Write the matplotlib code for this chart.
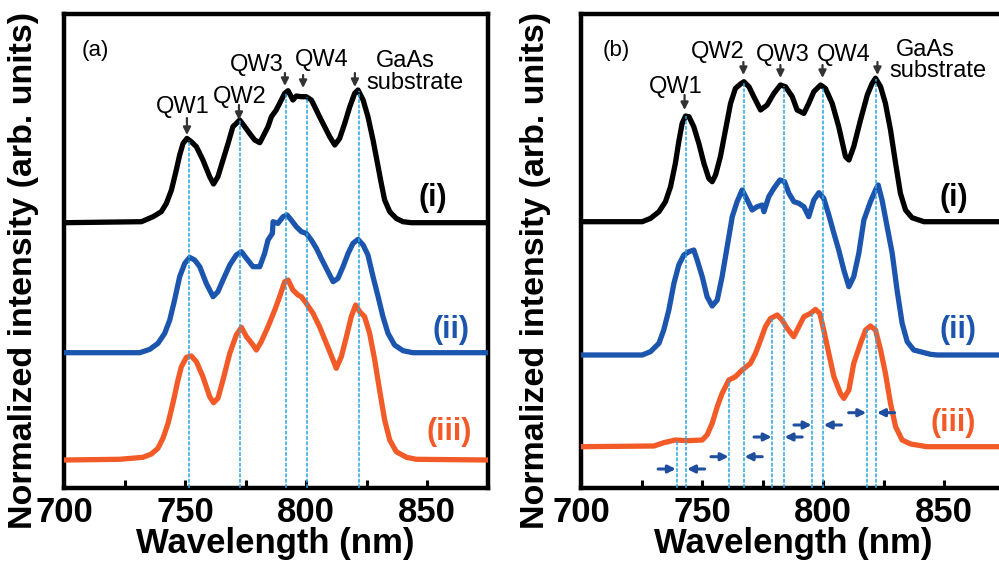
import numpy as np
import matplotlib
matplotlib.use("Agg")
import matplotlib.pyplot as plt
from matplotlib.ticker import MultipleLocator

plt.rcParams['font.family'] = ['Liberation Sans', 'DejaVu Sans']

# ---- panel (a) spectra: wavelength (nm) and signal above each baseline
wl_a1 = [700, 732.0, 736.8, 740.2, 742.3, 744.4, 746.4, 747.8, 749.2, 750.8, 752.6, 754.7, 757.4, 760.2,
         761.8, 763.6, 765.7, 767.8, 769.8, 771.2, 772.6, 774.7, 776.7, 778.8, 780.9, 782.2, 784.3, 785.7,
         787.7, 789.8, 791.2, 792.6, 794.6, 796.0, 798.1, 800.1, 802.2, 803.6, 805.6, 807.7, 809.8, 811.9,
         813.9, 816.0, 818.1, 820.1, 821.5, 823.6, 825.6, 827.7, 829.8, 831.1, 832.5, 834.6, 837.3, 840.1,
         843.5, 875]
in_a1 = [0, 1.0, 6.0, 11.0, 19.3, 32.7, 52.7, 67.7, 79.3, 84.3, 81.0, 76.0, 62.7, 46.0,
         38.7, 46.0, 62.7, 79.3, 96.0, 99.3, 102.7, 96.0, 89.3, 82.7, 80.0, 86.0, 96.0, 106.0,
         112.7, 122.7, 129.3, 132.0, 122.7, 126.7, 126.0, 126.0, 122.7, 116.0, 106.0, 96.0, 86.0, 77.7,
         84.3, 99.3, 116.0, 129.3, 132.7, 122.7, 106.0, 82.7, 56.0, 39.3, 22.7, 11.0, 4.3, 1.0,
         0, 0]

wl_a2 = [700, 731.3, 735.4, 738.8, 741.6, 743.7, 745.7, 747.8, 749.9, 751.9, 754.0, 756.1, 758.8, 761.6,
         763.6, 765.7, 768.5, 771.2, 773.3, 775.4, 778.1, 780.9, 782.9, 784.3, 786.1, 786.4, 788.4, 790.5,
         792.2, 793.9, 796.0, 798.1, 800.1, 802.2, 804.3, 806.3, 808.4, 811.2, 813.2, 815.3, 817.4, 819.4,
         821.5, 823.6, 825.6, 827.7, 829.8, 831.8, 833.9, 836.6, 840.1, 844.2, 875]
in_a2 = [0, 0, 3.3, 9.3, 19.3, 32.7, 52.7, 76.0, 89.3, 95.3, 92.7, 86.0, 69.3, 56.0,
         61.0, 72.7, 87.7, 97.7, 101.0, 94.3, 86.0, 86.0, 99.3, 112.7, 119.3, 131.0, 129.3, 136.0,
         137.7, 132.7, 126.0, 121.0, 119.3, 112.7, 104.3, 94.3, 84.3, 71.0, 74.3, 86.0, 99.3, 109.3,
         113.3, 107.7, 97.7, 76.0, 56.0, 36.0, 19.3, 7.7, 2.0, 0, 0]

wl_a3 = [700, 723.0, 732.6, 736.1, 738.8, 740.9, 743.0, 745.0, 747.1, 748.5, 750.6, 752.6, 754.7, 757.4,
         760.2, 761.8, 763.6, 765.7, 768.5, 771.2, 773.3, 775.4, 778.1, 779.5, 781.5, 784.3, 787.1, 789.1,
         791.2, 792.6, 794.6, 796.7, 798.1, 800.1, 802.9, 805.6, 808.4, 811.2, 812.5, 814.6, 816.7, 818.7,
         820.5, 822.2, 824.2, 826.3, 828.4, 830.4, 832.5, 834.6, 837.3, 841.5, 845.6, 875]
in_a3 = [0, 0.7, 2.7, 6.0, 11.7, 21.7, 36.7, 56.7, 80.0, 93.3, 102.7, 104.0, 98.3, 83.3,
         63.3, 57.3, 61.7, 80.0, 106.7, 125.0, 132.7, 123.3, 115.0, 110.0, 118.3, 133.3, 150.0, 163.3,
         178.3, 180.0, 170.0, 165.0, 163.3, 156.7, 146.7, 133.3, 116.7, 100.0, 91.7, 103.3, 123.3, 143.3,
         155.0, 148.3, 143.3, 126.7, 100.0, 70.0, 40.0, 20.0, 8.3, 2.7, 0.7, 0]

# ---- panel (b) spectra
wl_b1 = [700, 725.3, 728.7, 732.2, 734.9, 737.0, 739.0, 740.4, 741.8, 743.2, 744.6, 746.6, 748.7, 750.8,
         752.8, 754.2, 755.6, 757.6, 759.7, 761.8, 763.8, 765.9, 767.3, 769.4, 771.4, 774.2, 776.9, 779.7,
         782.4, 784.5, 787.3, 789.3, 792.1, 794.1, 796.2, 799.0, 801.0, 803.8, 806.5, 809.3, 810.7, 812.7,
         815.5, 818.3, 820.3, 821.7, 823.8, 825.8, 827.9, 830.0, 832.0, 834.1, 836.8, 841.7, 875]
in_b1 = [0, 0, 3.3, 10.0, 20.0, 35.0, 58.3, 80.0, 98.3, 105.7, 105.0, 95.0, 78.3, 58.3,
         43.3, 40.0, 46.7, 65.0, 91.7, 118.3, 133.3, 137.7, 140.0, 135.0, 125.0, 111.7, 116.7, 128.3,
         136.7, 135.0, 125.0, 111.7, 108.3, 118.3, 130.0, 136.7, 133.3, 118.3, 95.0, 65.0, 61.7, 75.0,
         101.7, 126.7, 138.3, 143.5, 135.0, 118.3, 91.7, 58.3, 28.3, 11.7, 4.0, 0, 0]

wl_b2 = [700, 725.3, 728.7, 732.2, 734.2, 736.3, 738.4, 740.4, 742.5, 744.6, 746.6, 748.0, 750.1, 752.1,
         754.2, 756.3, 758.3, 760.4, 762.5, 764.5, 766.6, 768.7, 770.7, 772.8, 774.9, 775.6, 777.6, 779.7,
         782.2, 784.1, 785.9, 788.0, 790.0, 792.1, 794.1, 796.2, 798.3, 800.3, 802.4, 804.5, 806.5, 808.6,
         810.7, 812.7, 814.8, 816.9, 819.6, 821.7, 822.8, 824.4, 826.5, 828.6, 830.6, 832.7, 834.8, 837.5,
         844.4, 847.2, 875]
in_b2 = [0, 0, 3.3, 11.7, 25.0, 45.0, 71.7, 90.0, 100.0, 103.3, 105.0, 95.0, 78.3, 58.3,
         49.0, 55.0, 78.3, 108.3, 138.3, 153.3, 165.0, 155.0, 145.0, 148.3, 150.0, 143.3, 158.3, 166.7,
         175.0, 173.3, 161.7, 153.3, 151.7, 148.3, 138.3, 155.0, 162.3, 156.7, 140.0, 121.7, 105.0, 85.0,
         68.3, 78.3, 101.7, 135.0, 153.3, 165.0, 170.0, 155.0, 128.3, 101.7, 65.0, 31.7, 13.3, 5.0,
         0.7, 0, 0]

wl_b3 = [700, 730.1, 734.2, 739.0, 743.9, 750.1, 752.1, 754.2, 756.3, 758.3, 761.1, 763.8, 766.6, 770.0,
         772.1, 774.2, 776.2, 778.3, 781.1, 783.1, 785.2, 787.9, 790.0, 792.1, 794.8, 796.9, 798.7, 800.3,
         802.4, 804.5, 807.2, 808.6, 810.7, 812.7, 815.5, 817.6, 819.6, 821.7, 823.8, 825.8, 827.9, 830.0,
         832.7, 836.2, 843.0, 875]
in_b3 = [0, 0.7, 4.0, 6.7, 6.0, 6.7, 11.7, 23.3, 40.0, 53.3, 66.7, 70.0, 76.7, 83.3,
         93.3, 106.7, 120.0, 128.3, 131.7, 126.7, 118.3, 110.0, 120.0, 130.0, 133.3, 137.3, 133.3, 116.7,
         93.3, 70.0, 53.3, 48.3, 56.7, 83.3, 103.3, 116.7, 120.7, 116.7, 96.7, 73.3, 43.3, 20.0,
         6.7, 2.7, 0, 0]

# vertical offsets of the stacked spectra (i), (ii), (iii)
offset_a = [264.8, 134.8, 27.5]
offset_b = [265.8, 132.5, 40.8]

# peak positions (nm)
qw_a = [751.7, 772.6, 791.6, 800.3, 821.8]
qw_b = [743.5, 767.3, 783.8, 800.0, 822.0]
qw_b3 = [739.5, 761.3, 779.1, 795.6, 818.2]
shift_y_b = [18.5, 30.8, 50.5, 62.5, 74.8]

labels = ['(i)', '(ii)', '(iii)']
colors = ['black', '#1b55ad', '#f25a28']
dash_col = '#2ba6e0'
arrow_col = '#1f4e9f'

W, H = 999, 561
fig = plt.figure(figsize=(W / 100, H / 100), dpi=100)


def px_axes(l, r, t, b):
    return [l / W, 1 - b / H, (r - l) / W, (b - t) / H]


ax_a = fig.add_axes(px_axes(64, 487.5, 13.5, 487.5))
ax_b = fig.add_axes(px_axes(581, 1004.5, 13.5, 487.5))

for ax in (ax_a, ax_b):
    ax.set_xlim(700, 875)
    ax.set_ylim(0, 474)
    ax.xaxis.set_major_locator(MultipleLocator(50))
    ax.xaxis.set_minor_locator(MultipleLocator(25))
    ax.set_yticks([])
    ax.tick_params(axis='x', which='both', direction='in', length=6, width=2.2,
                   top=False, labelsize=25, pad=6)
    for lbl in ax.get_xticklabels():
        lbl.set_fontweight('bold')
    for sp in ax.spines.values():
        sp.set_linewidth(3.2)
    ax.set_xlabel('Wavelength (nm)', fontsize=25, fontweight='bold')
    ax.xaxis.set_label_coords(0.5, -0.083)
    ax.set_ylabel('Normalized intensity (arb. units)', fontsize=24.5, fontweight='bold')

ax_a.yaxis.set_label_coords(-0.058, 0.458)
ax_b.yaxis.set_label_coords(-0.07, 0.458)

# spectra
curves_a = [(wl_a1, in_a1), (wl_a2, in_a2), (wl_a3, in_a3)]
curves_b = [(wl_b1, in_b1), (wl_b2, in_b2), (wl_b3, in_b3)]
for ax, curves, offs in ((ax_a, curves_a, offset_a), (ax_b, curves_b, offset_b)):
    for (wl, it), off, c in zip(curves, offs, colors):
        ax.plot(wl, np.array(it) + off, color=c, lw=3.8, solid_joinstyle='round', zorder=3)

# dashed guide lines
top_a = np.interp(qw_a, wl_a1, in_a1) + offset_a[0]
for x, yt in zip(qw_a, top_a):
    ax_a.plot([x, x], [0, yt], color=dash_col, lw=1.1, ls=(0, (2.5, 1)), zorder=4)
top_b = np.interp(qw_b, wl_b1, in_b1) + offset_b[0]
for x, yt in zip(qw_b, top_b):
    ax_b.plot([x, x], [0, yt], color=dash_col, lw=1.1, ls=(0, (2.5, 1)), zorder=4)
top_b3 = np.interp(qw_b3, wl_b3, in_b3) + offset_b[2]
for x, yt in zip(qw_b3, top_b3):
    ax_b.plot([x, x], [0, yt], color=dash_col, lw=1.1, ls=(0, (2.5, 1)), zorder=4)

# blue shift arrows in (b)
for x_lo, x_hi, y in zip(qw_b3, qw_b, shift_y_b):
    ax_b.annotate('', xy=(x_lo - 0.3, y), xytext=(x_lo - 7.6, y),
                  arrowprops=dict(arrowstyle='-|>', color=arrow_col, lw=2.2,
                                  mutation_scale=11, shrinkA=0, shrinkB=0), zorder=5)
    ax_b.annotate('', xy=(x_hi + 0.3, y), xytext=(x_hi + 7.6, y),
                  arrowprops=dict(arrowstyle='-|>', color=arrow_col, lw=2.2,
                                  mutation_scale=11, shrinkA=0, shrinkB=0), zorder=5)

# curve labels
lab_a = [(852.5, 289.5), (860, 157.5), (859, 55.5)]
lab_b = [(853.9, 289.5), (855.6, 157.5), (853.9, 64.5)]
for ax, pos in ((ax_a, lab_a), (ax_b, lab_b)):
    for (x, y), t, c in zip(pos, labels, colors):
        ax.text(x, y, t, color=c, fontsize=22, fontweight='bold', ha='center', va='center')

# peak annotations
def peak_arrow(ax, x, y_tail, y_head):
    ax.annotate('', xy=(x, y_head), xytext=(x, y_tail),
                arrowprops=dict(arrowstyle='-|>', color='#333333', lw=1.6,
                                mutation_scale=11, shrinkA=0, shrinkB=0))

ax_a.text(707.4, 437.5, '(a)', fontsize=16, ha='left', va='center')
ann_a = [('QW1', 749.2, 380.5, 750.8, 369.5, 352.5),
         ('QW2', 772.7, 390.5, 772.3, 382.5, 367.5),
         ('QW3', 779.7, 422.5, 791.3, 414.5, 401.5),
         ('QW4', 806.6, 427.5, 798.8, 412.5, 399.5)]
for t, tx, ty, ax_x, yt, yh in ann_a:
    ax_a.text(tx, ty, t, fontsize=17, ha='center', va='center')
    peak_arrow(ax_a, ax_x, yt, yh)
ax_a.text(840.9, 427, 'GaAs', fontsize=17, ha='center', va='center')
ax_a.text(845.0, 404.5, 'substrate', fontsize=17, ha='center', va='center')
peak_arrow(ax_a, 820.2, 414.5, 400.5)

ax_b.text(708.9, 437.5, '(b)', fontsize=16, ha='left', va='center')
ann_b = [('QW1', 739.0, 400.5, 742.8, 392.5, 377.5),
         ('QW2', 756.4, 435.5, 767.1, 425.5, 412.5),
         ('QW3', 783.3, 432.5, 782.4, 422.5, 409.5),
         ('QW4', 808.5, 432.5, 799.8, 422.5, 409.5)]
for t, tx, ty, ax_x, yt, yh in ann_b:
    ax_b.text(tx, ty, t, fontsize=17, ha='center', va='center')
    peak_arrow(ax_b, ax_x, yt, yh)
ax_b.text(842.4, 438, 'GaAs', fontsize=17, ha='center', va='center')
ax_b.text(847.3, 416.5, 'substrate', fontsize=17, ha='center', va='center')
peak_arrow(ax_b, 822.5, 425.5, 412.5)

fig.savefig('out.png', dpi=100)
